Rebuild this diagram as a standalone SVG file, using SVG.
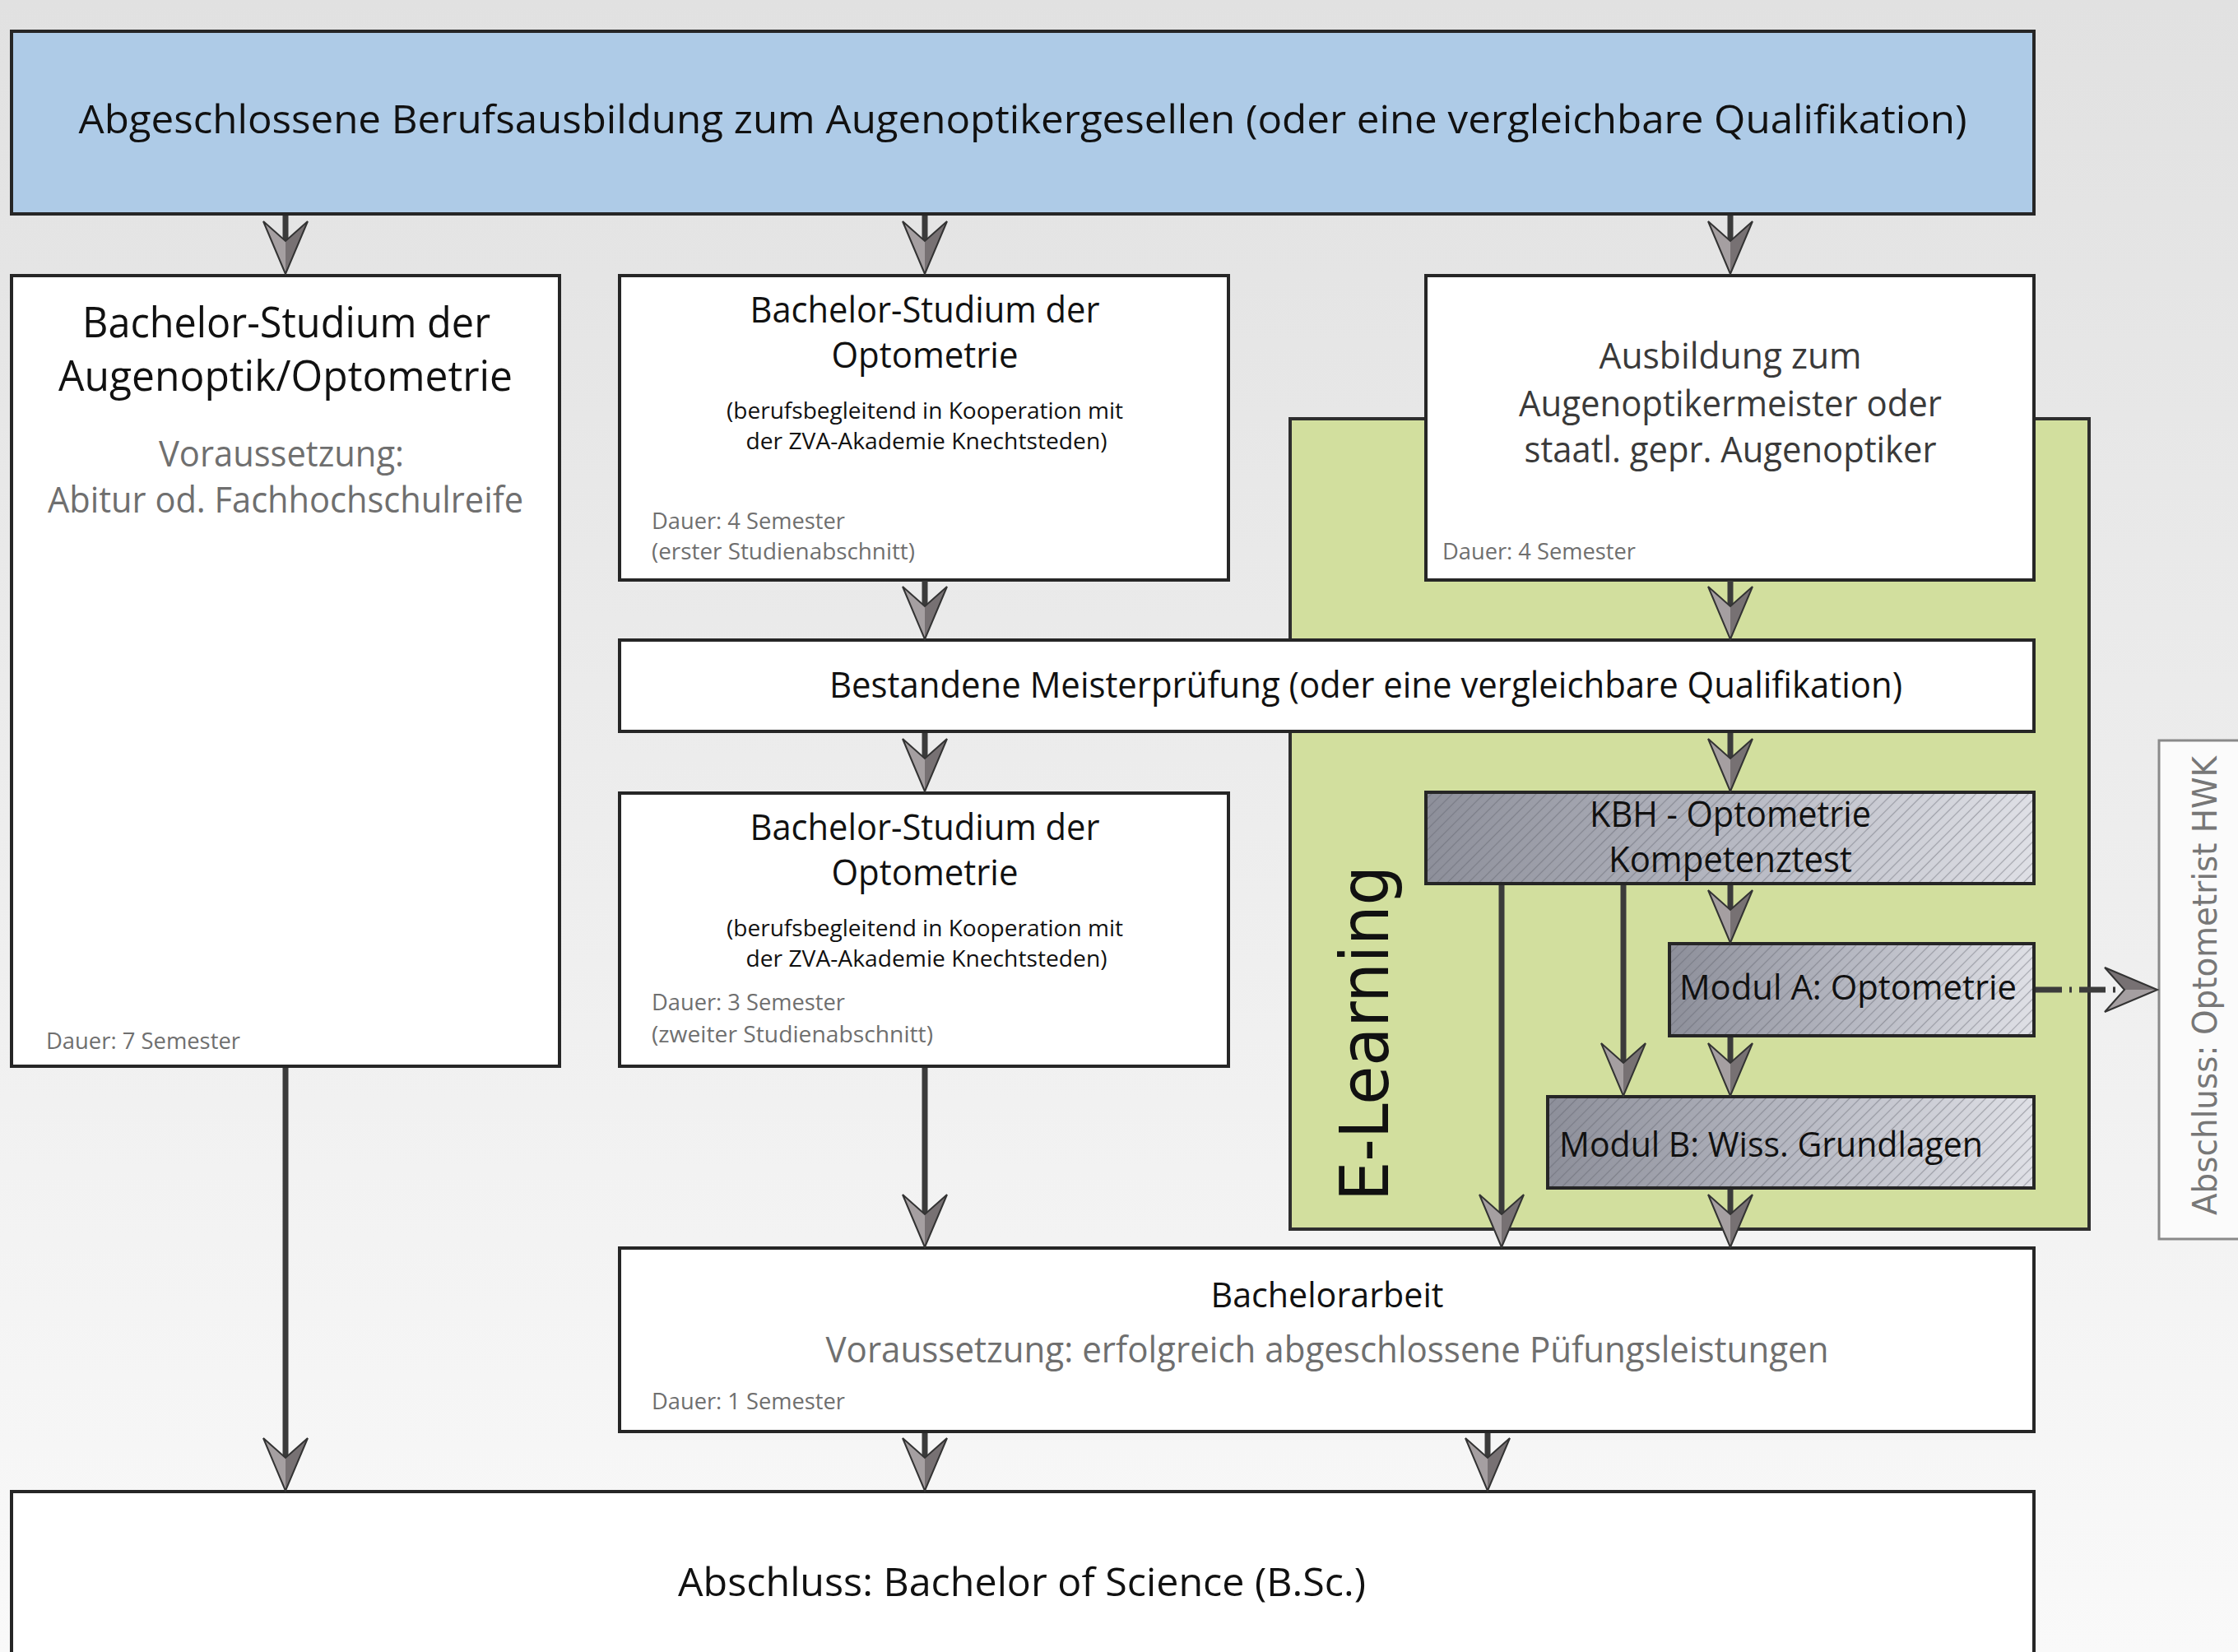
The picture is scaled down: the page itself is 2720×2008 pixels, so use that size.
<svg xmlns="http://www.w3.org/2000/svg" xmlns:xlink="http://www.w3.org/1999/xlink" width="2720" height="2008" viewBox="0 0 2720 2008">
<style>
.box{fill:#ffffff;stroke:#262626;stroke-width:4}
.t{font-family:"Open Sans","Liberation Sans",sans-serif;fill:#111}
.g{fill:#6f6f6f}
.d{fill:#3a3a3a}
.conn{stroke:#3b3b3b;stroke-width:7;fill:none}
.hatchbox{stroke:#262626;stroke-width:4}
</style>
<defs>
<linearGradient id="bg" x1="0" y1="0" x2="0" y2="1">
<stop offset="0" stop-color="#e1e1e1"/>
<stop offset="1" stop-color="#f9f9f9"/>
</linearGradient>
<linearGradient id="metal" x1="0" y1="0" x2="1" y2="0">
<stop offset="0" stop-color="#8d8f9a"/>
<stop offset="0.5" stop-color="#b6b8c2"/>
<stop offset="1" stop-color="#dfe0e6"/>
</linearGradient>
<pattern id="hatch" width="9" height="9" patternUnits="userSpaceOnUse" patternTransform="rotate(45)">
<line x1="4.5" y1="0" x2="4.5" y2="9" stroke="#5e606b" stroke-width="1.2" stroke-opacity="0.45"/>
</pattern>
<g id="ah">
<polygon points="0,0 -27,-64 0,-40" fill="#a59fa1"/>
<polygon points="0,0 27,-64 0,-40" fill="#777173"/>
<polygon points="0,0 -27,-64 0,-40 27,-64" fill="none" stroke="#333" stroke-width="2" stroke-linejoin="miter"/>
</g>
</defs>

<rect x="0" y="0" width="2720" height="2008" fill="url(#bg)"/>

<g id="top">
<rect x="14" y="38" width="2458" height="222" fill="#aecbe7" stroke="#262626" stroke-width="4"/>
<text class="t" x="1243" y="162" font-size="48" text-anchor="middle" textLength="2295" lengthAdjust="spacingAndGlyphs">Abgeschlossene Berufsausbildung zum Augenoptikergesellen (oder eine vergleichbare Qualifikation)</text>
</g>

<g id="elearning">
<rect x="1568" y="509" width="971" height="985" fill="#d2df9e" stroke="#2e2e2e" stroke-width="4"/>
<text transform="translate(1687,1460) rotate(-90)" font-family="DejaVu Sans, Verdana, sans-serif" font-size="82" fill="#111" textLength="408" lengthAdjust="spacingAndGlyphs">E-Learning</text>
</g>

<g id="left">
<rect class="box" x="14" y="335" width="666" height="961"/>
<text class="t" x="348" y="410" font-size="52" text-anchor="middle" textLength="496" lengthAdjust="spacingAndGlyphs">Bachelor-Studium der</text>
<text class="t" x="347" y="475" font-size="52" text-anchor="middle" textLength="552" lengthAdjust="spacingAndGlyphs">Augenoptik/Optometrie</text>
<text class="t g" x="342" y="567" font-size="44" text-anchor="middle" textLength="298" lengthAdjust="spacingAndGlyphs">Voraussetzung:</text>
<text class="t g" x="347" y="623" font-size="44" text-anchor="middle" textLength="578" lengthAdjust="spacingAndGlyphs">Abitur od. Fachhochschulreife</text>
<text class="t g" x="56" y="1275" font-size="28" textLength="236" lengthAdjust="spacingAndGlyphs">Dauer: 7 Semester</text>
</g>

<g id="mid1">
<rect class="box" x="753" y="335" width="740" height="370"/>
<text class="t" x="1124" y="392" font-size="44" text-anchor="middle" textLength="425" lengthAdjust="spacingAndGlyphs">Bachelor-Studium der</text>
<text class="t" x="1124" y="447" font-size="44" text-anchor="middle" textLength="227" lengthAdjust="spacingAndGlyphs">Optometrie</text>
<text class="t" x="1124" y="509" font-size="27" text-anchor="middle" textLength="482" lengthAdjust="spacingAndGlyphs">(berufsbegleitend in Kooperation mit</text>
<text class="t" x="1126" y="546" font-size="27" text-anchor="middle" textLength="439" lengthAdjust="spacingAndGlyphs">der ZVA-Akademie Knechtsteden)</text>
<text class="t g" x="792" y="643" font-size="28" textLength="235" lengthAdjust="spacingAndGlyphs">Dauer: 4 Semester</text>
<text class="t g" x="792" y="680" font-size="28" textLength="320" lengthAdjust="spacingAndGlyphs">(erster Studienabschnitt)</text>
</g>

<g id="right">
<rect class="box" x="1733" y="335" width="739" height="370"/>
<text class="t d" x="2103" y="448" font-size="43" text-anchor="middle" textLength="319" lengthAdjust="spacingAndGlyphs">Ausbildung zum</text>
<text class="t d" x="2103" y="506" font-size="43" text-anchor="middle" textLength="514" lengthAdjust="spacingAndGlyphs">Augenoptikermeister oder</text>
<text class="t d" x="2103" y="562" font-size="43" text-anchor="middle" textLength="501" lengthAdjust="spacingAndGlyphs">staatl. gepr. Augenoptiker</text>
<text class="t g" x="1753" y="680" font-size="28" textLength="235" lengthAdjust="spacingAndGlyphs">Dauer: 4 Semester</text>
</g>

<g id="meister">
<rect class="box" x="753" y="778" width="1719" height="111"/>
<text class="t" x="1660" y="848" font-size="44" text-anchor="middle" textLength="1304" lengthAdjust="spacingAndGlyphs">Bestandene Meisterprüfung (oder eine vergleichbare Qualifikation)</text>
</g>

<g id="mid2">
<rect class="box" x="753" y="964" width="740" height="332"/>
<text class="t" x="1124" y="1021" font-size="44" text-anchor="middle" textLength="425" lengthAdjust="spacingAndGlyphs">Bachelor-Studium der</text>
<text class="t" x="1124" y="1076" font-size="44" text-anchor="middle" textLength="227" lengthAdjust="spacingAndGlyphs">Optometrie</text>
<text class="t" x="1124" y="1138" font-size="27" text-anchor="middle" textLength="482" lengthAdjust="spacingAndGlyphs">(berufsbegleitend in Kooperation mit</text>
<text class="t" x="1126" y="1175" font-size="27" text-anchor="middle" textLength="439" lengthAdjust="spacingAndGlyphs">der ZVA-Akademie Knechtsteden)</text>
<text class="t g" x="792" y="1228" font-size="28" textLength="235" lengthAdjust="spacingAndGlyphs">Dauer: 3 Semester</text>
<text class="t g" x="792" y="1267" font-size="28" textLength="342" lengthAdjust="spacingAndGlyphs">(zweiter Studienabschnitt)</text>
</g>

<g id="kbh">
<rect class="hatchbox" x="1733" y="963" width="739" height="111" fill="url(#metal)"/>
<rect x="1735" y="965" width="735" height="107" fill="url(#hatch)"/>
<text class="t" x="2103" y="1005" font-size="43" text-anchor="middle" textLength="342" lengthAdjust="spacingAndGlyphs">KBH - Optometrie</text>
<text class="t" x="2103" y="1060" font-size="43" text-anchor="middle" textLength="296" lengthAdjust="spacingAndGlyphs">Kompetenztest</text>
</g>

<g id="modulA">
<rect class="hatchbox" x="2029" y="1147" width="443" height="112" fill="url(#metal)"/>
<rect x="2031" y="1149" width="439" height="108" fill="url(#hatch)"/>
<text class="t" x="2041" y="1215" font-size="42" textLength="410" lengthAdjust="spacingAndGlyphs">Modul A: Optometrie</text>
</g>

<g id="modulB">
<rect class="hatchbox" x="1881" y="1333" width="591" height="111" fill="url(#metal)"/>
<rect x="1883" y="1335" width="587" height="107" fill="url(#hatch)"/>
<text class="t" x="1895" y="1406" font-size="42" textLength="515" lengthAdjust="spacingAndGlyphs">Modul B: Wiss. Grundlagen</text>
</g>

<g id="bachelorarbeit">
<rect class="box" x="753" y="1517" width="1719" height="223"/>
<text class="t" x="1613" y="1589" font-size="42" text-anchor="middle" textLength="283" lengthAdjust="spacingAndGlyphs">Bachelorarbeit</text>
<text class="t g" x="1613" y="1656" font-size="44" text-anchor="middle" textLength="1219" lengthAdjust="spacingAndGlyphs">Voraussetzung: erfolgreich abgeschlossene Püfungsleistungen</text>
<text class="t g" x="792" y="1713" font-size="28" textLength="235" lengthAdjust="spacingAndGlyphs">Dauer: 1 Semester</text>
</g>

<g id="final">
<rect class="box" x="14" y="1813" width="2458" height="220"/>
<text class="t" x="1242" y="1940" font-size="48" text-anchor="middle" textLength="836" lengthAdjust="spacingAndGlyphs">Abschluss: Bachelor of Science (B.Sc.)</text>
</g>

<g id="hwk">
<rect x="2624" y="900" width="120" height="606" fill="#fbfbfb" stroke="#8a8a8a" stroke-width="3"/>
<text transform="translate(2694,1477) rotate(-90)" font-family="DejaVu Sans, Verdana, sans-serif" font-size="40" fill="#777" textLength="558" lengthAdjust="spacingAndGlyphs">Abschluss: Optometrist HWK</text>
</g>

<g id="connectors">
<path class="conn" d="M347 262V293 M1124 262V293 M2103 262V293 M1124 706V737 M2103 706V737 M1124 891V922 M2103 891V922 M2103 1076V1106 M1973 1076V1292 M1825 1076V1476 M2103 1261V1292 M2103 1446V1476 M1124 1298V1476 M347 1298V1772 M1124 1742V1772 M1808 1742V1772"/>
<path d="M2474 1203H2578" stroke="#3b3b3b" stroke-width="7" stroke-dasharray="32 9 3 9" fill="none"/>
<use xlink:href="#ah" href="#ah" x="347" y="333"/>
<use xlink:href="#ah" href="#ah" x="1124" y="333"/>
<use xlink:href="#ah" href="#ah" x="2103" y="333"/>
<use xlink:href="#ah" href="#ah" x="1124" y="777"/>
<use xlink:href="#ah" href="#ah" x="2103" y="777"/>
<use xlink:href="#ah" href="#ah" x="1124" y="962"/>
<use xlink:href="#ah" href="#ah" x="2103" y="962"/>
<use xlink:href="#ah" href="#ah" x="2103" y="1146"/>
<use xlink:href="#ah" href="#ah" x="1973" y="1332"/>
<use xlink:href="#ah" href="#ah" x="2103" y="1332"/>
<use xlink:href="#ah" href="#ah" x="1825" y="1516"/>
<use xlink:href="#ah" href="#ah" x="2103" y="1516"/>
<use xlink:href="#ah" href="#ah" x="1124" y="1516"/>
<use xlink:href="#ah" href="#ah" x="347" y="1812"/>
<use xlink:href="#ah" href="#ah" x="1124" y="1812"/>
<use xlink:href="#ah" href="#ah" x="1808" y="1812"/>
<use xlink:href="#ah" href="#ah" transform="translate(2622,1203) rotate(-90)"/>
</g>
</svg>
